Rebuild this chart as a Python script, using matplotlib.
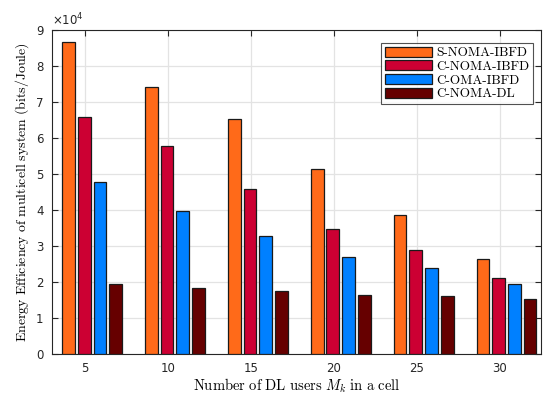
import matplotlib
matplotlib.use("Agg")
import matplotlib.pyplot as plt
from matplotlib.ticker import FuncFormatter
import numpy as np

users = [5, 10, 15, 20, 25, 30]
series_names = ["S-NOMA-IBFD", "C-NOMA-IBFD", "C-OMA-IBFD", "C-NOMA-DL"]
s_noma_ibfd = [86800, 74200, 65200, 51400, 38600, 26400]
c_noma_ibfd = [65800, 57800, 45800, 34800, 28800, 21200]
c_oma_ibfd = [47800, 39800, 32900, 26900, 23800, 19400]
c_noma_dl = [19400, 18200, 17400, 16400, 16100, 15300]
x_ticks = [5, 10, 15, 20, 25, 30]
y_ticks = [0, 10000, 20000, 30000, 40000, 50000, 60000, 70000, 80000, 90000]

colors = ["#FF6A19", "#CC0033", "#0080FF", "#660000"]
offsets = [-1.0, -0.06, 0.89, 1.84]
bar_w = 0.77

plt.rcParams["mathtext.fontset"] = "cm"

fig = plt.figure(figsize=(5.47, 3.94), dpi=100)
W, H = 547, 394
ax = fig.add_axes([52 / W, (H - 354) / H, (541 - 52) / W, (354 - 30) / H])

series = [s_noma_ibfd, c_noma_ibfd, c_oma_ibfd, c_noma_dl]
x = np.array(users, dtype=float)
for vals, name, col, off in zip(series, series_names, colors, offsets):
    ax.bar(x + off, vals, width=bar_w, color=col, edgecolor="#1a1a1a",
           linewidth=0.9, label=name, zorder=3)

ax.set_xlim(3, 32.5)
ax.set_ylim(0, 90000)
ax.set_xticks(x_ticks)
ax.set_yticks(y_ticks)
ax.yaxis.set_major_formatter(FuncFormatter(lambda v, p: f"{v / 1e4:g}"))

ax.grid(True, color="#e3e3e3", linewidth=0.9, zorder=0)
ax.set_axisbelow(True)
for sp in ax.spines.values():
    sp.set_color("#262626")
    sp.set_linewidth(0.8)
ax.tick_params(direction="in", length=4, width=0.8, colors="#262626",
               top=True, right=True, labelsize=8.5, pad=6)

ax.text(0.0, 1.005, r"$\times 10^4$", transform=ax.transAxes, fontsize=8.5,
        ha="left", va="bottom", color="#262626", math_fontfamily="dejavusans")

ax.set_xlabel(r"$\mathrm{Number\ of\ DL\ users\ }M_k\mathrm{\ in\ a\ cell}$",
              fontsize=10.5, labelpad=1)
ax.set_ylabel(r"$\mathrm{Energy\ Efficiency\ of\ multicell\ system\ (bits/Joule)}$",
              fontsize=10, labelpad=4)

leg = ax.legend(loc="upper right", bbox_to_anchor=(0.992, 0.973),
                prop={"family": "cmr10", "size": 9.5},
                frameon=True, fancybox=False, edgecolor="#262626",
                handlelength=3.6, handleheight=0.8, handletextpad=0.3,
                labelspacing=0.08, borderpad=0.3, borderaxespad=0.3)
leg.get_frame().set_linewidth(0.8)

fig.savefig("out.png", dpi=100)
